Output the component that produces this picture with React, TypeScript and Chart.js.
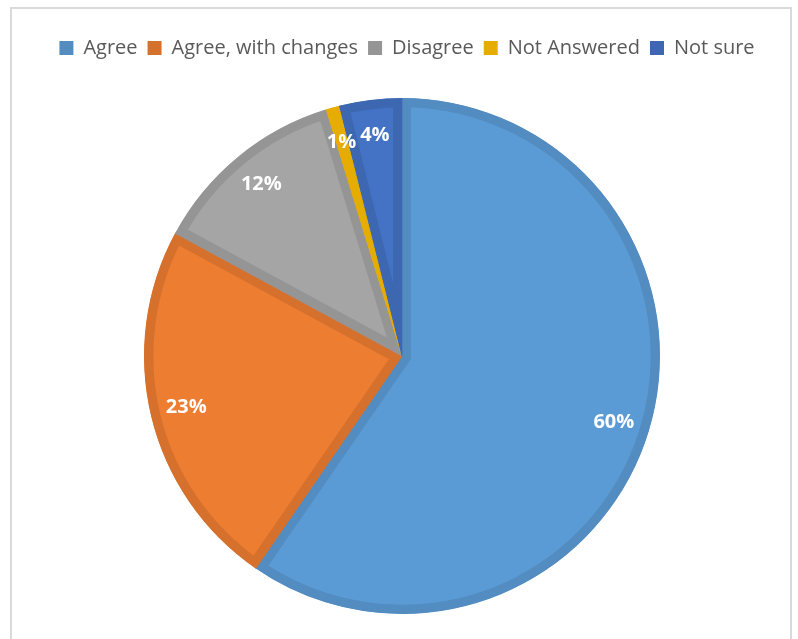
import React, { useEffect, useRef } from 'react';
import { Chart, registerables } from 'chart.js';

Chart.register(...registerables);

const categories = ['Agree', 'Agree, with changes', 'Disagree', 'Not Answered', 'Not sure'];
const values = [59.6, 23.3, 12.35, 0.85, 3.9];
const fillColors = ['#5B9BD5', '#ED7D31', '#A5A5A5', '#FFC000', '#4472C4'];
const borderColors = ['#528CC0', '#D5712C', '#959595', '#E6AD00', '#3D67B0'];

const legendGap = {
  id: 'legendGap',
  beforeLayout(chart: any) {
    const lg = chart.legend;
    if (lg && !lg._gapPatched) {
      const orig = lg.fit;
      lg.fit = function () {
        orig.call(this);
        this.height += 30;
      };
      lg._gapPatched = true;
    }
  },
  afterLayout(chart: any) {
    const lg = chart.legend;
    if (lg) {
      lg.left += 5;
      lg.right += 5;
    }
  },
};

const pctLabels = {
  id: 'pctLabels',
  afterDatasetsDraw(chart: any) {
    const ctx = chart.ctx as CanvasRenderingContext2D;
    const meta = chart.getDatasetMeta(0);
    const data = chart.data.datasets[0].data as number[];
    const total = data.reduce((a, b) => a + b, 0);
    ctx.save();
    ctx.font = 'bold 20px "Open Sans"';
    ctx.fillStyle = '#ffffff';
    ctx.textAlign = 'center';
    ctx.textBaseline = 'middle';
    const items = meta.data.map((arc: any, i: number) => {
      const p = arc.getProps(['x', 'y', 'startAngle', 'endAngle', 'outerRadius'], true);
      const mid = (p.startAngle + p.endAngle) / 2;
      const r = p.outerRadius * 0.86;
      const text = Math.round((data[i] / total) * 100) + '%';
      const w = ctx.measureText(text).width;
      return { x: p.x + Math.cos(mid) * r, y: p.y + Math.sin(mid) * r, w, text, v: data[i] };
    });
    for (let i = 0; i < items.length; i++) {
      for (let j = i + 1; j < items.length; j++) {
        const a = items[i];
        const b = items[j];
        if (Math.abs(a.y - b.y) < 20) {
          const overlap = (a.w + b.w) / 2 + 4 - Math.abs(a.x - b.x);
          if (overlap > 0) {
            const small = a.v < b.v ? a : b;
            const big = small === a ? b : a;
            small.x += (small.x < big.x ? -1 : 1) * overlap;
          }
        }
      }
    }
    items.forEach((it: any) => ctx.fillText(it.text, it.x, it.y));
    ctx.restore();
  },
};

export default function App() {
  const ref = useRef<HTMLCanvasElement>(null);
  useEffect(() => {
    const defaultGen = (Chart as any).overrides.pie.plugins.legend.labels.generateLabels;
    const chart = new Chart(ref.current!, {
      type: 'pie',
      data: {
        labels: categories,
        datasets: [
          {
            data: values,
            backgroundColor: fillColors,
            borderColor: borderColors,
            borderWidth: 9,
            borderAlign: 'inner',
            borderJoinStyle: 'miter',
          } as any,
        ],
      },
      options: {
        animation: false,
        responsive: false,
        devicePixelRatio: 1,
        layout: { padding: { top: 28, left: 6, right: 0, bottom: 25 } },
        plugins: {
          tooltip: { enabled: false },
          legend: {
            position: 'top',
            labels: {
              font: { family: 'Open Sans', size: 20 },
              color: '#595959',
              boxWidth: 14,
              boxHeight: 14,
              padding: 10,
              generateLabels: (c: any) =>
                defaultGen(c).map((it: any) => ({
                  ...it,
                  fillStyle: it.strokeStyle,
                  lineWidth: 0,
                })),
            },
          },
        },
      } as any,
      plugins: [legendGap, pctLabels],
    });
    return () => chart.destroy();
  }, []);
  return (
    <div
      style={{
        position: 'absolute',
        left: 0,
        top: 0,
        width: 798,
        height: 639,
        overflow: 'hidden',
        background: '#ffffff',
      }}
    >
      <div
        style={{
          position: 'absolute',
          left: 10,
          top: 7,
          width: 782,
          height: 700,
          border: '2px solid #dadada',
          boxSizing: 'border-box',
        }}
      />
      <canvas
        ref={ref}
        width={798}
        height={639}
        style={{ position: 'absolute', left: 0, top: 0, width: 798, height: 639 }}
      />
    </div>
  );
}
